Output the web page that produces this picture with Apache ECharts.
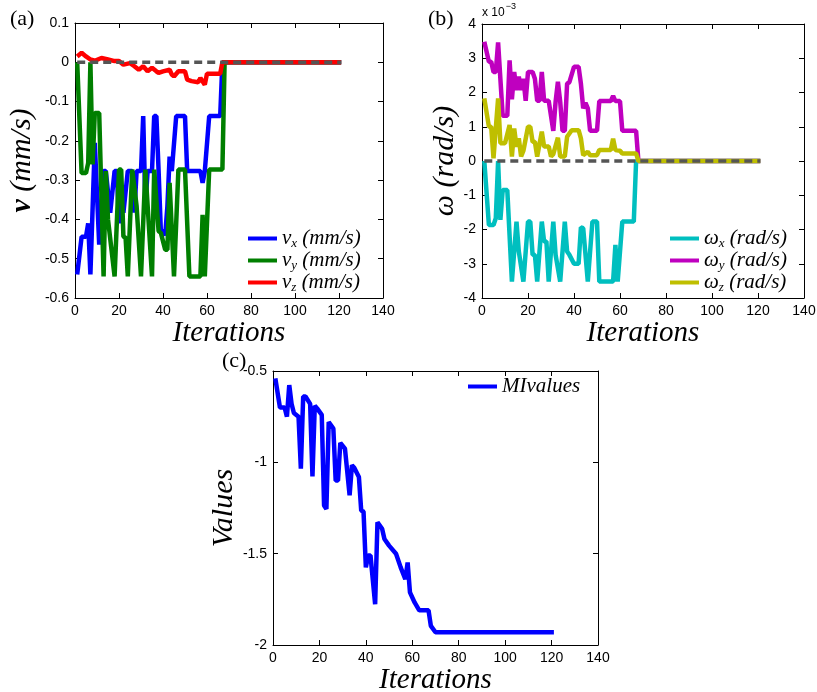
<!DOCTYPE html>
<html>
<head>
<meta charset="utf-8">
<script src="https://cdn.jsdelivr.net/npm/echarts@6/dist/echarts.min.js"></script>
<style>
  html, body { margin: 0; padding: 0; background: #fff; }
  #main { width: 817px; height: 692px; }
</style>
</head>
<body>
<div id="main"></div>
<script>
// ticks
const iterTicks = [0, 20, 40, 60, 80, 100, 120, 140]
const vTicks = [-0.6, -0.5, -0.4, -0.3, -0.2, -0.1, 0, 0.1]
const wTicks = [-4, -3, -2, -1, 0, 1, 2, 3, 4] // x 10^-3 rad/s
const miTicks = [-2, -1.5, -1, -0.5]

// (a) velocities, mm/s  (iteration / value at each vertex)
const vxIter = [1, 3, 5, 6, 7, 9, 11, 13, 14, 16, 18, 19, 20, 21, 22, 24, 26, 27, 28, 30, 31, 32, 33, 35, 36, 37, 38, 39, 41, 42, 43, 44, 46, 50, 51, 57, 58, 59, 61, 66, 67, 121]
const vxVal = [-0.54, -0.444, -0.444, -0.41, -0.54, -0.205, -0.464, -0.277, -0.277, -0.383, -0.277, -0.277, -0.41, -0.33, -0.383, -0.277, -0.277, -0.383, -0.277, -0.277, -0.137, -0.366, -0.277, -0.277, -0.137, -0.137, -0.277, -0.426, -0.44, -0.366, -0.24, -0.277, -0.137, -0.137, -0.277, -0.277, -0.307, -0.277, -0.137, -0.137, 0, 0]

const vyIter = [1, 3, 5, 6, 7, 8, 9, 11, 13, 14, 15, 18, 20, 21, 22, 23, 24, 26, 28, 30, 32, 35, 36, 38, 39, 41, 42, 43, 45, 47, 50, 52, 57, 58, 59, 61, 67, 68, 121]
const vyVal = [0, -0.282, -0.282, -0.256, 0, -0.26, -0.129, -0.129, -0.545, -0.277, -0.4, -0.545, -0.273, -0.273, -0.443, -0.447, -0.545, -0.273, -0.366, -0.545, -0.273, -0.545, -0.273, -0.43, -0.434, -0.477, -0.477, -0.307, -0.545, -0.273, -0.273, -0.545, -0.545, -0.388, -0.545, -0.273, -0.273, 0, 0]

const vzIter = [1, 3, 5, 7, 9, 12, 15, 18, 20, 22, 25, 27, 29, 31, 33, 35, 37, 38, 40, 43, 44, 45, 47, 50, 51, 53, 56, 57, 59, 60, 66, 67, 121]
const vzVal = [0.015, 0.024, 0.015, 0.007, 0.004, 0.011, 0.007, 0.003, 0.003, -0.006, -0.002, -0.01, -0.019, -0.01, -0.023, -0.014, -0.023, -0.027, -0.023, -0.019, -0.031, -0.036, -0.023, -0.023, -0.044, -0.048, -0.051, -0.04, -0.057, -0.029, -0.029, 0, 0]

// (b) angular velocities, x 10^-3 rad/s
const wxIter = [1, 3, 5, 6, 7, 8, 9, 11, 13, 15, 16, 18, 20, 21, 22, 23, 24, 26, 27, 28, 29, 31, 32, 34, 36, 37, 38, 40, 42, 43, 44, 46, 48, 50, 51, 57, 58, 59, 61, 66, 67, 121]
const wxVal = [0, -1.87, -1.87, -1.67, 0, -1.72, -0.85, -0.85, -3.52, -1.77, -2.64, -3.52, -1.77, -1.77, -2.74, -2.74, -3.52, -1.77, -2.35, -2.35, -3.52, -1.77, -2.74, -3.52, -1.77, -2.64, -2.74, -3.0, -3.0, -1.94, -1.96, -3.52, -1.77, -1.77, -3.52, -3.52, -2.45, -3.52, -1.77, -1.77, 0, 0]

const wyIter = [1, 3, 4, 5, 6, 7, 9, 11, 12, 13, 14, 15, 16, 17, 18, 19, 20, 22, 23, 24, 25, 26, 27, 29, 31, 32, 33, 34, 35, 36, 37, 38, 40, 42, 43, 44, 45, 46, 47, 50, 51, 56, 57, 58, 60, 61, 67, 68, 121]
const wyVal = [3.48, 2.9, 2.9, 2.6, 2.6, 3.46, 1.32, 1.32, 2.94, 1.8, 2.6, 2.07, 2.46, 2.07, 2.4, 1.76, 2.6, 2.6, 2.4, 1.76, 1.76, 2.6, 1.76, 1.76, 0.88, 1.73, 2.31, 1.73, 0.88, 0.88, 2.26, 2.3, 2.75, 2.75, 2.26, 1.54, 1.7, 1.54, 0.88, 0.88, 1.75, 1.75, 1.9, 1.75, 1.75, 0.88, 0.88, 0, 0]

const wzIter = [1, 3, 4, 5, 7, 8, 10, 12, 13, 14, 15, 16, 17, 18, 20, 21, 22, 23, 24, 26, 27, 29, 30, 31, 33, 34, 36, 37, 39, 42, 43, 44, 46, 47, 50, 51, 56, 57, 58, 60, 61, 67, 68, 121]
const wzVal = [1.83, 1.0, 1.0, 0.08, 1.83, 0.52, 0.52, 1.05, 0.13, 0.95, 0.42, 0.66, 0.13, 0.3, 1.0, 1.0, 0.56, 0.56, 0.13, 0.86, 0.42, 0.42, 0.13, 0.2, 0.68, 0.13, 0.13, 0.71, 0.9, 0.9, 0.66, 0.17, 0.27, 0.17, 0.17, 0.32, 0.32, 0.65, 0.32, 0.3, 0.22, 0.22, 0, 0]

// (c) MI values
const miIter = [1, 3, 5, 6, 7, 8, 9, 11, 12, 13, 14, 16, 17, 18, 19, 21, 22, 23, 24, 26, 27, 28, 29, 31, 33, 34, 35, 37, 38, 39, 40, 41, 42, 44, 45, 47, 48, 50, 53, 55, 57, 58, 59, 61, 63, 67, 68, 70, 121]
const miVal = [-0.54, -0.7, -0.7, -0.75, -0.577, -0.68, -0.73, -0.75, -1.035, -0.64, -0.64, -0.68, -1.077, -0.69, -0.705, -0.74, -1.236, -1.255, -0.78, -0.815, -1.1, -1.1, -0.894, -0.925, -1.18, -1.016, -1.03, -1.08, -1.264, -1.27, -1.575, -1.51, -1.51, -1.777, -1.328, -1.364, -1.42, -1.456, -1.5, -1.575, -1.64, -1.548, -1.712, -1.767, -1.81, -1.81, -1.895, -1.93, -1.93]

// dashed reference line at zero
const zeroIter = [1, 121]
const zeroVal = [0, 0]

const serif = "'Liberation Serif', 'DejaVu Serif', serif"
const sans = "'Liberation Sans', Arial, sans-serif"

const pts = (xs, ys) => xs.map((x, i) => [x, ys[i]])

const axisLine = { show: true, onZero: false, lineStyle: { color: '#000', width: 1 } }
const axisTick = { show: true, inside: true, length: 5, lineStyle: { color: '#000' } }
const tickLabel = { color: '#000', fontFamily: sans, fontSize: 14 }

const range = (t) => ({ min: t[0], max: t[t.length - 1], interval: t[1] - t[0] })

const nameStyle = (size) => ({
  color: '#000',
  fontFamily: serif,
  fontStyle: 'italic',
  fontSize: size,
  rich: {
    b: { fontFamily: serif, fontWeight: 'bold', fontSize: size, color: '#000' },
    i: { fontFamily: serif, fontStyle: 'italic', fontSize: size, color: '#000' }
  }
})

function xPair (gi) {
  const base = { type: 'value', gridIndex: gi, ...range(iterTicks), axisLine, axisTick, splitLine: { show: false } }
  return [
    { ...base, position: 'bottom', axisLabel: { ...tickLabel, margin: 6 },
      name: 'Iterations', nameLocation: 'middle', nameGap: 14, nameTextStyle: nameStyle(29) },
    { ...base, position: 'top', axisLabel: { show: false } }
  ]
}

function yPair (gi, ticks, name, gap, fmt) {
  const base = { type: 'value', gridIndex: gi, ...range(ticks), axisLine, axisTick, splitLine: { show: false } }
  return [
    { ...base, position: 'left', axisLabel: { ...tickLabel, margin: 6, formatter: fmt },
      name, nameLocation: 'middle', nameRotate: 90, nameGap: gap, nameTextStyle: nameStyle(30) },
    { ...base, position: 'right', axisLabel: { show: false } }
  ]
}

const line = (name, gi, xs, ys, color) => ({
  name, type: 'line', xAxisIndex: gi * 2, yAxisIndex: gi * 2,
  data: pts(xs, ys), symbol: 'none', color,
  lineStyle: { color, width: 4.5 }
})

const zero = (name, gi) => ({
  name, type: 'line', xAxisIndex: gi * 2, yAxisIndex: gi * 2,
  data: pts(zeroIter, zeroVal), symbol: 'none', z: 5,
  lineStyle: { color: '#555', width: 3.5, type: [8, 5] }
})

const legendText = {
  vx: '{m|v}{s|x}{m| (mm/s)}',
  vy: '{m|v}{s|y}{m| (mm/s)}',
  vz: '{m|v}{s|z}{m| (mm/s)}',
  wx: '{m|ω}{s|x}{m| (rad/s)}',
  wy: '{m|ω}{s|y}{m| (rad/s)}',
  wz: '{m|ω}{s|z}{m| (rad/s)}',
  MIvalues: '{m|MIvalues}'
}

const legend = (data, left, top) => ({
  data, left, top, orient: 'vertical', icon: 'rect',
  itemWidth: 29, itemHeight: 4, itemGap: 0, selectedMode: false,
  formatter: (n) => legendText[n],
  textStyle: {
    color: '#000',
    rich: {
      m: { fontFamily: serif, fontStyle: 'italic', fontSize: 21, color: '#000' },
      s: { fontFamily: serif, fontStyle: 'italic', fontSize: 13, color: '#000', padding: [10, 0, 0, 0] }
    }
  }
})

const chart = echarts.init(document.getElementById('main'))

chart.setOption({
  animation: false,
  backgroundColor: '#fff',
  grid: [
    { left: 75, top: 23, width: 308, height: 275, outerBoundsMode: 'none' },
    { left: 482, top: 24, width: 322, height: 274, outerBoundsMode: 'none' },
    { left: 273, top: 371, width: 325, height: 274, outerBoundsMode: 'none' }
  ],
  xAxis: [...xPair(0), ...xPair(1), ...xPair(2)],
  yAxis: [
    ...yPair(0, vTicks, '{b|v} {i|(mm/s)}', 38, (v) => (Math.abs(v) < 1e-9 ? '0' : v.toFixed(1))),
    ...yPair(1, wTicks, '{i|ω (rad/s)}', 19),
    ...yPair(2, miTicks, '{i|Values}', 27)
  ],
  legend: [
    legend(['vx', 'vy', 'vz'], 243, 223),
    legend(['wx', 'wy', 'wz'], 665, 223),
    legend(['MIvalues'], 463, 371)
  ],
  graphic: [
    { type: 'text', left: 10, top: 8, style: { text: '(a)', font: "22px 'Liberation Serif'", fill: '#000' } },
    { type: 'text', left: 428, top: 8, style: { text: '(b)', font: "22px 'Liberation Serif'", fill: '#000' } },
    { type: 'text', left: 222, top: 350, style: { text: '(c)', font: "22px 'Liberation Serif'", fill: '#000' } },
    { type: 'text', left: 482, top: 2, style: {
      text: '{a|x 10}{b|−3}', fill: '#000',
      rich: {
        a: { fontFamily: sans, fontSize: 12, fill: '#000' },
        b: { fontFamily: sans, fontSize: 9, fill: '#000', padding: [0, 0, 12, 1] }
      }
    } }
  ],
  series: [
    line('vx', 0, vxIter, vxVal, '#0000ff'),
    line('vy', 0, vyIter, vyVal, '#007f00'),
    line('vz', 0, vzIter, vzVal, '#ff0000'),
    zero('zeroA', 0),
    line('wx', 1, wxIter, wxVal, '#00bfbf'),
    line('wy', 1, wyIter, wyVal, '#bf00bf'),
    line('wz', 1, wzIter, wzVal, '#bfbf00'),
    zero('zeroB', 1),
    line('MIvalues', 2, miIter, miVal, '#0000ff')
  ]
})
</script>
</body>
</html>
